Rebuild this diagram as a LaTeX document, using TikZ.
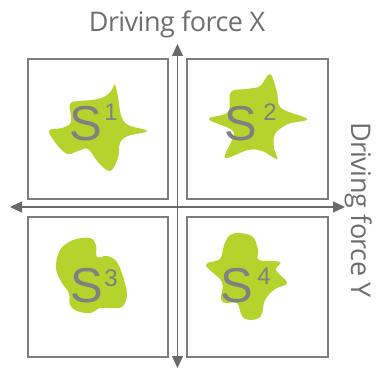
\documentclass[tikz,border=0pt]{standalone}
\usepackage{fontspec}
\setmainfont{Open Sans}
\newfontfamily\labfont{Liberation Sans}
\usetikzlibrary{arrows.meta}
\definecolor{axisgray}{RGB}{105,105,105}
\definecolor{boxgray}{RGB}{125,125,125}
\definecolor{labgray}{RGB}{128,128,128}
\definecolor{titlegray}{RGB}{110,110,110}
\definecolor{lime}{RGB}{182,211,45}
\begin{document}
\begin{tikzpicture}[x=1pt,y=-1pt,
  quadbox/.style={draw=boxgray,line width=1.2pt},
  axisline/.style={draw=axisgray,line width=1.2pt,-{Triangle[length=12pt,width=11pt]}},
  blob/.style={fill=lime,draw=none},
  bigS/.style={text=labgray,font=\labfont\fontsize{49}{49}\selectfont,inner sep=0pt,anchor=base},
  supnum/.style={text=labgray,font=\labfont\fontsize{24}{24}\selectfont,inner sep=0pt,anchor=base},
  axtitle/.style={text=titlegray,font=\fontsize{27}{27}\selectfont\addfontfeatures{LetterSpace=-2},inner sep=0pt,anchor=base}]
\useasboundingbox (0,0) rectangle (378,369);
% boxes
\draw[quadbox] (28,59) rectangle (168,199);
\draw[quadbox] (187,59) rectangle (328,199);
\draw[quadbox] (28,217) rectangle (168,357);
\draw[quadbox] (187,217) rectangle (328,357);
% axes
\coordinate (c) at (177.5,207);
\coordinate (l) at (10,207);
\coordinate (r) at (345,207);
\coordinate (t) at (177.5,44);
\coordinate (b) at (177.5,368);
\draw[axisline] (c) -- (l);
\draw[axisline] (c) -- (r);
\draw[axisline] (c) -- (t);
\draw[axisline] (c) -- (b);
% blobs
\fill[blob] plot[smooth cycle,tension=0.6] coordinates {(70,104) (80,101) (92,100) (104,97) (111,91) (115,85) (118,97) (121,115) (128,125) (147,131) (128,136) (120,143) (118,158) (110,171) (98,162) (88,149) (78,151) (68,154) (58,146) (49,131) (62,128) (71,122)};
\fill[blob] plot[smooth cycle,tension=0.6] coordinates {(270,74) (277,92) (281,108) (307,119) (288,124) (275,134) (274,148) (277,159) (262,151) (248,150) (225,158) (232,140) (232,130) (209,119) (228,112) (231,92) (247,89) (260,86)};
\fill[blob] plot[smooth cycle,tension=0.6] coordinates {(60,250) (73,240) (90,238) (96,245) (97,257) (107,256) (117,262) (124,280) (127,295) (122,307) (110,308) (100,308) (90,313) (77,311) (70,305) (69,293) (62,283) (56,268)};
\fill[blob] plot[smooth cycle,tension=0.6] coordinates {(230,235) (240,233) (253,237) (258,250) (259,260) (280,262) (276,270) (287,283) (275,289) (265,300) (261,316) (250,320) (242,316) (237,303) (225,303) (221,298) (222,282) (206,265) (220,259) (224,245)};
% labels
\node[bigS] (s1) at (86,140) {S};
\node[supnum] (n1) at (111,121) {1};
\node[bigS] (s2) at (241,140) {S};
\node[supnum] (n2) at (270,121) {2};
\node[bigS] (s3) at (87,302) {S};
\node[supnum] (n3) at (111,286) {3};
\node[bigS] (s4) at (237,302) {S};
\node[supnum] (n4) at (264,284) {4};
% axis titles
\node[axtitle] (tx) at (177,32) {Driving force X};
\node[axtitle,rotate=-90] (ty) at (351,210) {Driving force Y};
\end{tikzpicture}
\end{document}
